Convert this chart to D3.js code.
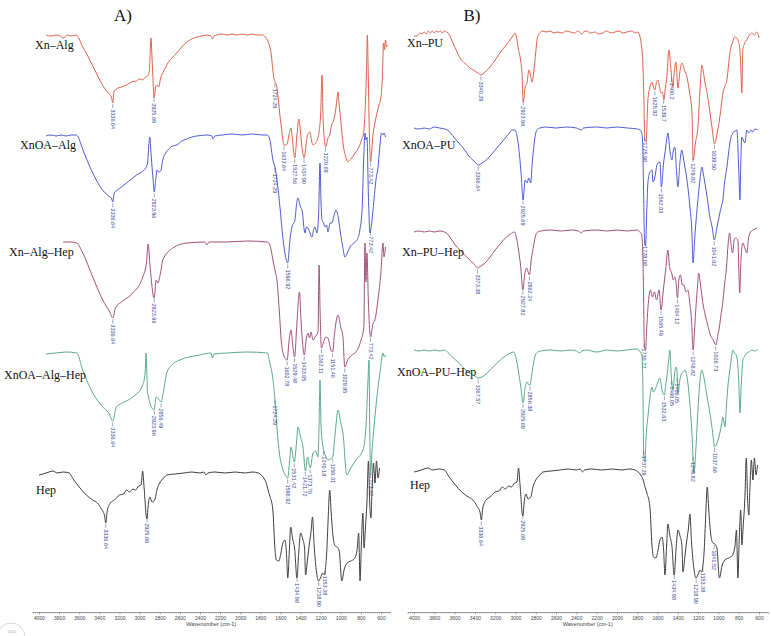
<!DOCTYPE html>
<html>
<head>
<meta charset="utf-8">
<script src="https://cdn.jsdelivr.net/npm/d3@7"></script>
<style>
  body { margin: 0; background: #fff; }
  svg { display: block; }
</style>
</head>
<body>
<div id="vis"></div>
<script>
// wavenumber ticks shared by both panels
const wavenumberTicks = d3.range(4000, 599, -200);
const minorTicks = d3.range(4060, 509, -20);

// spectra: [wavenumber cm-1, absorption depth below the spectrum's flat top (a.u.)]
const xnAlg = [
  [4000,0],[3950,1],[3900,0],[3860,1],[3830,3],[3810,2],[3790,0],[3750,1],[3700,0],[3670,4],[3640,11],[3600,18],[3560,26],[3500,38],[3460,46],[3420,53],[3380,58],[3350,62],[3336,68],[3325,57],[3300,54],[3250,52],[3200,50],[3150,47],[3100,46],[3070,44],[3040,45],[3010,42],[2990,41],[2972,35],[2957,3],[2945,25],[2925,63],[2910,52],[2895,50],[2880,52],[2860,43],[2830,36],[2800,30],[2750,23],[2700,18],[2650,12],[2600,7],[2550,4],[2500,2],[2450,1],[2400,0],[2360,1],[2345,4],[2330,1],[2300,0],[2250,-1],[2200,0],[2150,-1],[2100,0],[2050,-1],[2000,0],[1950,-1],[1900,0],[1850,0],[1820,2],[1800,5],[1780,10],[1760,20],[1745,35],[1735,43],[1724,47],[1712,49],[1700,56],[1690,65],[1675,80],[1660,92],[1645,105],[1633,110],[1615,110],[1600,108],[1585,100],[1565,93],[1545,110],[1527,123],[1505,100],[1487,84],[1472,95],[1460,108],[1434,123],[1415,110],[1400,100],[1376,97],[1360,106],[1345,110],[1320,108],[1300,104],[1283,95],[1270,80],[1256,40],[1245,85],[1220,112],[1200,104],[1180,100],[1160,90],[1140,85],[1120,75],[1105,62],[1097,57],[1085,70],[1070,85],[1045,110],[1020,122],[1000,127],[980,125],[960,123],[940,120],[920,117],[900,114],[880,110],[860,104],[845,100],[830,80],[812,30],[805,0],[798,30],[785,100],[773,127],[750,100],[730,88],[709,78],[690,70],[670,62],[655,40],[645,8],[635,15],[625,5],[615,12],[605,10]
];
const xnoaAlg = [
  [4000,1],[3950,0],[3900,1],[3850,0],[3800,1],[3750,0],[3700,0],[3680,2],[3650,10],[3620,18],[3580,28],[3540,37],[3500,45],[3460,52],[3420,57],[3380,61],[3350,63],[3336,67],[3322,58],[3290,55],[3250,52],[3200,48],[3150,44],[3100,40],[3050,37],[3010,33],[2990,28],[2978,10],[2968,2],[2955,20],[2935,45],[2924,57],[2910,45],[2895,35],[2880,37],[2860,36],[2840,25],[2810,18],[2780,14],[2740,11],[2700,10],[2650,6],[2600,4],[2550,2],[2500,1],[2400,0],[2350,1],[2340,4],[2320,1],[2250,0],[2150,-1],[2050,0],[1950,-1],[1850,0],[1800,0],[1774,5],[1744,25],[1724,32],[1700,48],[1674,72],[1650,98],[1625,118],[1597,128],[1575,105],[1555,92],[1525,85],[1510,70],[1495,63],[1470,72],[1455,75],[1426,98],[1410,92],[1396,93],[1375,98],[1356,102],[1340,95],[1326,92],[1306,98],[1290,80],[1276,28],[1265,70],[1256,85],[1240,88],[1227,92],[1210,90],[1197,97],[1175,88],[1157,88],[1135,80],[1117,75],[1095,82],[1077,95],[1050,112],[1028,122],[1000,117],[978,112],[940,108],[908,105],[880,95],[858,75],[840,20],[829,-2],[818,5],[809,2],[795,60],[779,98],[765,90],[749,75],[720,45],[699,32],[680,10],[665,-2],[650,0],[640,-2],[625,2]
];
const xnAlgHep = [
  [3830,0],[3750,0],[3694,1],[3635,11],[3535,35],[3436,58],[3366,70],[3336,76],[3310,66],[3250,60],[3137,51],[3038,35],[3000,20],[2985,2],[2965,25],[2925,56],[2905,38],[2888,41],[2860,30],[2839,18],[2739,6],[2600,1],[2420,0],[2400,3],[2380,0],[2200,0],[2000,-1],[1800,0],[1774,3],[1744,18],[1720,30],[1704,38],[1680,70],[1660,100],[1630,115],[1602,118],[1585,100],[1565,88],[1545,105],[1529,115],[1505,80],[1480,50],[1465,78],[1450,100],[1433,113],[1410,95],[1396,91],[1380,96],[1366,90],[1345,98],[1326,95],[1296,90],[1285,23],[1275,70],[1262,106],[1240,100],[1220,95],[1197,96],[1167,108],[1151,110],[1130,90],[1097,73],[1070,85],[1048,95],[1030,125],[1000,118],[960,113],[928,111],[868,98],[840,85],[829,1],[819,40],[809,11],[795,60],[773,95],[750,82],[730,78],[700,58],[670,30],[650,1],[640,15],[625,5]
];
const xnoaAlgHep = [
  [4000,1],[3900,0],[3800,-1],[3694,0],[3635,17],[3535,40],[3436,54],[3376,60],[3336,68],[3300,54],[3200,48],[3137,44],[3038,32],[3015,20],[3005,0],[2990,40],[2925,57],[2905,44],[2880,46],[2856,49],[2835,40],[2800,20],[2750,12],[2670,7],[2470,2],[2360,0],[2345,5],[2330,1],[2200,0],[2000,-1],[1800,0],[1774,10],[1750,22],[1724,46],[1700,80],[1680,100],[1650,115],[1620,122],[1597,125],[1580,110],[1565,94],[1531,109],[1510,90],[1495,74],[1470,84],[1445,94],[1421,118],[1400,104],[1373,115],[1346,100],[1320,98],[1296,104],[1285,70],[1276,27],[1265,75],[1240,97],[1220,103],[1197,107],[1150,104],[1125,80],[1097,57],[1070,70],[1048,80],[1010,122],[970,115],[918,107],[849,97],[819,74],[800,30],[789,7],[781,80],[773,122],[760,100],[730,64],[700,35],[680,20],[650,0],[635,4],[620,2]
];
const hep = [
  [4000,2],[3960,1],[3900,-1],[3860,-2],[3820,0],[3760,-1],[3700,0],[3660,6],[3600,14],[3530,22],[3465,27],[3420,30],[3380,36],[3350,42],[3336,50],[3322,38],[3290,30],[3250,27],[3200,22],[3160,21],[3130,17],[3100,19],[3067,16],[3040,17],[3010,13],[2985,12],[2970,-2],[2955,15],[2928,46],[2912,30],[2898,24],[2875,29],[2850,27],[2825,16],[2800,10],[2760,5],[2729,2],[2650,1],[2560,0],[2480,-1],[2400,0],[2360,-1],[2340,2],[2320,0],[2250,-1],[2150,0],[2050,-1],[1950,0],[1880,-1],[1820,0],[1790,2],[1760,6],[1744,9],[1720,18],[1705,23],[1675,37],[1655,75],[1640,87],[1615,88],[1595,80],[1576,70],[1555,67],[1540,80],[1527,105],[1510,75],[1498,54],[1478,66],[1458,76],[1436,105],[1418,80],[1399,60],[1378,66],[1360,75],[1350,102],[1330,86],[1311,70],[1295,58],[1281,44],[1265,72],[1240,100],[1222,108],[1202,105],[1180,100],[1163,102],[1153,96],[1140,80],[1125,45],[1110,17],[1095,40],[1075,65],[1054,73],[1035,74],[1015,78],[990,108],[965,96],[936,90],[900,88],[867,86],[838,77],[822,60],[808,108],[795,70],[780,40],[769,75],[755,55],[740,30],[725,-12],[712,30],[700,45],[690,20],[675,-10],[660,10],[645,-12],[630,5],[615,-5]
];
const xnPu = [
  [4000,4],[3970,4],[3940,1],[3920,2],[3900,0],[3880,2],[3860,-1],[3840,1],[3820,-1],[3800,1],[3780,-1],[3760,0],[3740,-1],[3720,1],[3700,-1],[3680,0],[3665,1],[3640,5],[3616,11],[3580,19],[3547,26],[3500,31],[3448,36],[3400,39],[3370,41],[3340,43],[3300,40],[3251,35],[3200,28],[3153,21],[3100,14],[3054,8],[3020,3],[3005,1],[2990,5],[2975,15],[2950,28],[2936,41],[2923,70],[2905,55],[2887,51],[2867,38],[2850,44],[2838,50],[2818,38],[2800,20],[2788,8],[2770,2],[2759,1],[2740,-1],[2700,0],[2660,-1],[2620,1],[2580,0],[2540,1],[2500,-1],[2460,0],[2420,1],[2380,-1],[2350,2],[2330,0],[2300,-1],[2260,1],[2220,0],[2180,2],[2140,1],[2100,-1],[2060,1],[2020,0],[1980,-1],[1940,1],[1900,0],[1860,-1],[1820,1],[1795,0],[1775,4],[1760,12],[1745,30],[1735,65],[1725,108],[1712,110],[1700,80],[1695,68],[1675,55],[1655,50],[1640,55],[1626,58],[1610,50],[1596,48],[1580,55],[1567,61],[1552,60],[1537,68],[1522,55],[1508,45],[1488,18],[1470,35],[1449,55],[1435,40],[1419,30],[1399,56],[1380,40],[1360,31],[1335,38],[1310,45],[1285,60],[1261,80],[1249,128],[1225,110],[1202,95],[1180,55],[1163,33],[1148,40],[1133,50],[1110,62],[1084,80],[1060,98],[1039,112],[1010,100],[986,85],[970,72],[956,61],[935,54],[916,48],[900,33],[887,21],[860,10],[838,5],[820,6],[808,8],[788,18],[778,40],[769,61],[760,18],[745,12],[720,8],[700,4],[670,1],[645,3],[621,0],[600,6]
];
const xnoaPu = [
  [4000,0],[3950,1],[3900,0],[3850,1],[3800,-1],[3750,0],[3700,1],[3670,2],[3640,5],[3600,10],[3550,16],[3500,22],[3460,28],[3420,32],[3390,35],[3366,37],[3330,35],[3300,33],[3250,28],[3200,22],[3150,16],[3100,10],[3060,5],[3030,2],[3005,2],[2985,8],[2970,18],[2945,45],[2925,72],[2905,52],[2885,55],[2870,50],[2850,55],[2835,35],[2815,15],[2800,5],[2780,1],[2760,0],[2700,-1],[2600,0],[2500,-1],[2400,0],[2350,2],[2330,0],[2200,-1],[2100,0],[2000,-1],[1900,0],[1800,1],[1770,2],[1755,5],[1745,20],[1738,60],[1728,112],[1718,118],[1705,80],[1695,55],[1675,44],[1655,42],[1645,54],[1626,49],[1606,37],[1596,35],[1576,34],[1562,59],[1540,35],[1520,20],[1498,5],[1475,25],[1458,32],[1443,22],[1429,19],[1412,45],[1399,59],[1380,35],[1360,22],[1345,30],[1330,39],[1301,59],[1280,80],[1261,105],[1251,135],[1230,105],[1202,72],[1180,50],[1163,39],[1150,45],[1133,55],[1110,70],[1084,89],[1060,100],[1041,112],[1015,100],[986,85],[970,78],[956,72],[940,55],[916,39],[900,25],[887,15],[857,5],[835,3],[818,2],[800,40],[788,72],[778,30],[769,9],[755,12],[739,15],[720,2],[700,5],[680,2],[661,4],[640,1],[611,2]
];
const xnPuHep = [
  [4000,2],[3950,1],[3900,2],[3850,1],[3800,2],[3750,1],[3700,2],[3670,4],[3640,8],[3600,14],[3550,20],[3500,25],[3450,30],[3400,35],[3373,38],[3340,36],[3300,33],[3250,27],[3200,20],[3150,14],[3100,8],[3050,4],[3010,2],[2990,8],[2970,20],[2950,35],[2927,60],[2910,45],[2890,38],[2875,42],[2862,45],[2845,30],[2820,15],[2800,5],[2780,2],[2750,1],[2650,0],[2550,1],[2450,0],[2380,1],[2350,3],[2330,1],[2200,0],[2100,1],[2000,0],[1900,1],[1800,0],[1775,2],[1760,3],[1748,15],[1738,60],[1730,117],[1718,120],[1705,95],[1690,72],[1670,60],[1650,67],[1630,62],[1610,70],[1585,60],[1565,80],[1545,62],[1520,40],[1498,20],[1480,38],[1460,43],[1445,50],[1430,47],[1415,55],[1404,68],[1390,50],[1375,45],[1355,55],[1340,55],[1320,62],[1300,60],[1280,75],[1265,90],[1249,120],[1235,100],[1220,75],[1205,55],[1195,43],[1180,52],[1170,60],[1150,75],[1130,85],[1105,95],[1080,105],[1050,110],[1026,115],[1005,105],[990,97],[975,85],[960,75],[940,55],[920,37],[905,15],[890,3],[875,15],[860,23],[845,10],[830,8],[808,10],[800,35],[790,63],[778,30],[759,13],[740,18],[720,23],[705,10],[690,3],[660,0],[640,-1],[621,-2]
];
const xnoaPuHep = [
  [4000,0],[3950,1],[3900,0],[3850,1],[3800,0],[3750,1],[3700,0],[3670,2],[3640,5],[3600,9],[3550,14],[3500,19],[3450,23],[3400,26],[3367,28],[3330,27],[3300,25],[3250,20],[3200,15],[3150,10],[3100,6],[3050,3],[3020,2],[2990,10],[2970,22],[2950,35],[2925,53],[2905,38],[2885,32],[2867,35],[2856,35],[2840,25],[2820,12],[2800,4],[2780,2],[2750,1],[2650,0],[2550,1],[2450,0],[2400,1],[2365,3],[2345,1],[2300,0],[2200,2],[2100,0],[2000,1],[1900,0],[1800,-1],[1770,2],[1755,5],[1747,20],[1742,55],[1737,102],[1725,112],[1712,85],[1695,67],[1675,48],[1655,37],[1640,42],[1626,40],[1600,33],[1576,28],[1560,38],[1547,43],[1532,45],[1520,35],[1508,27],[1490,10],[1478,0],[1465,25],[1449,40],[1430,22],[1420,17],[1409,20],[1399,43],[1380,30],[1360,23],[1345,22],[1330,20],[1301,33],[1280,55],[1261,83],[1241,123],[1220,95],[1202,60],[1185,35],[1163,20],[1148,25],[1133,33],[1110,48],[1084,63],[1060,80],[1037,97],[1010,92],[986,83],[970,75],[956,67],[936,77],[920,55],[907,37],[880,15],[857,0],[840,3],[818,7],[800,30],[788,63],[775,35],[759,10],[740,6],[720,3],[700,2],[670,0],[640,1],[611,-1]
];

// peak labels, as printed
const xnAlgPeaks = ["3336.64","2925.69","1724.29","1633.64","1527.56","1434.90","1220.69","773.42"];
const xnoaAlgPeaks = ["3336.64","2923.96","1724.29","1596.92","773.42"];
const xnAlgHepPeaks = ["3336.64","2923.96","1602.78","1529.48","1433.05","1262.11","1151.46","1029.95","773.42"];
const xnoaAlgHepPeaks = ["3336.64","2923.96","2856.49","1724.29","1596.92","1531.42","1421.72","1373.76","1240.18","1150.31","773.42"];
const hepPeaks = ["3336.64","2925.69","1434.98","1218.90","1153.38"];
const xnPuPeaks = ["3340.29","2923.96","1725.98","1625.92","1539.7","1460.2","1249.82","1039.50"];
const xnoaPuPeaks = ["3366.64","2925.69","1728.08","1562.03","1041.02"];
const xnPuHepPeaks = ["3373.38","2927.82","2862.24","1730.72","1565.49","1404.12","1248.82","1026.73"];
const xnoaPuHepPeaks = ["3367.57","2925.69","2856.38","1737.29","1532.63","1460.05","1406.05","1249.82","1037.66"];
const hepPeaksB = ["3336.64","2925.69","1434.98","1218.90","1153.38","1041.52"];

const width = 771;
const height = 636;

const svg = d3.select("#vis")
  .append("svg")
  .attr("width", width)
  .attr("height", height);

svg.append("rect").attr("width", width).attr("height", height).attr("fill", "#fff");

const panels = [
  {
    title: "A)", titleX: 123, range: [46, 388], axisRange: [39, 381],
    spectra: [
      { name: "Xn–Alg", values: xnAlg, peaks: xnAlgPeaks, color: "#e0604c", top: 35, lx: 35, ly: 49 },
      { name: "XnOA–Alg", values: xnoaAlg, peaks: xnoaAlgPeaks, color: "#4d5bd4", top: 135, lx: 20, ly: 149 },
      { name: "Xn–Alg–Hep", values: xnAlgHep, peaks: xnAlgHepPeaks, color: "#a3507a", top: 242, lx: 9, ly: 256 },
      { name: "XnOA–Alg–Hep", values: xnoaAlgHep, peaks: xnoaAlgHepPeaks, color: "#5aaa8a", top: 353, lx: 4, ly: 379 },
      { name: "Hep", values: hep, peaks: hepPeaks, color: "#3e3e3e", top: 473, lx: 36, ly: 494, onAxis: true }
    ]
  },
  {
    title: "B)", titleX: 472, range: [414, 759], axisRange: [414, 759],
    spectra: [
      { name: "Xn–PU", values: xnPu, peaks: xnPuPeaks, color: "#e0604c", top: 32, lx: 407, ly: 47 },
      { name: "XnOA–PU", values: xnoaPu, peaks: xnoaPuPeaks, color: "#4d5bd4", top: 128, lx: 402, ly: 149 },
      { name: "Xn–PU–Hep", values: xnPuHep, peaks: xnPuHepPeaks, color: "#a3507a", top: 230, lx: 402, ly: 256 },
      { name: "XnOA–PU–Hep", values: xnoaPuHep, peaks: xnoaPuHepPeaks, color: "#5aaa8a", top: 350, lx: 397, ly: 376 },
      { name: "Hep", values: hep, peaks: hepPeaksB, color: "#3e3e3e", top: 470, lx: 410, ly: 489, onAxis: true }
    ]
  }
];

// linear read of a spectrum at a given wavenumber (data in descending order)
function valueAt(values, w) {
  for (let i = 0; i < values.length - 1; i++) {
    const [w0, v0] = values[i];
    const [w1, v1] = values[i + 1];
    if (w <= w0 && w >= w1) return v0 + (v1 - v0) * (w0 - w) / (w0 - w1);
  }
  return values[values.length - 1][1];
}

panels.forEach(p => {
  const x = d3.scaleLinear().domain([4000, 600]).range(p.range);
  const xAxisRef = d3.scaleLinear().domain([4000, 600]).range(p.axisRange);

  svg.append("text")
    .attr("x", p.titleX)
    .attr("y", 21)
    .attr("text-anchor", "middle")
    .attr("font-family", "Liberation Serif, serif")
    .attr("font-size", 17)
    .attr("fill", "#111")
    .text(p.title);

  p.spectra.forEach(s => {
    const xs = s.onAxis ? xAxisRef : x;
    const y = d3.scaleLinear().domain([0, 100]).range([s.top, s.top + 100]);

    const line = d3.line()
      .x(d => xs(d[0]))
      .y(d => y(d[1]))
      .curve(d3.curveMonotoneX);

    svg.append("path")
      .datum(s.values)
      .attr("d", line)
      .attr("fill", "none")
      .attr("stroke", s.color)
      .attr("stroke-width", 1)
      .attr("stroke-linejoin", "round");

    svg.append("text")
      .attr("x", s.lx)
      .attr("y", s.ly)
      .attr("font-family", "Liberation Serif, serif")
      .attr("font-size", 12)
      .attr("fill", "#111")
      .text(s.name);

    const pk = svg.append("g").selectAll("g")
      .data(s.peaks)
      .enter()
      .append("g")
      .attr("transform", d => `translate(${xs(+d)},${y(valueAt(s.values, +d)) + 1.5})`);

    pk.append("line")
      .attr("y1", 0).attr("y2", 4)
      .attr("stroke", "#3a4590")
      .attr("stroke-width", 0.5);

    pk.append("text")
      .attr("transform", "translate(0,5) rotate(90)")
      .attr("dy", "0.35em")
      .attr("font-family", "Liberation Sans, Arial, sans-serif")
      .attr("font-size", 5.5)
      .attr("fill", "#3a4590")
      .text(d => d);
  });

  // wavenumber axis (shared with the reference trace)
  const ext = d3.scaleLinear()
    .domain([4065, 510])
    .range([xAxisRef(4065), xAxisRef(510)]);
  const axisY = 612;

  const gMinor = svg.append("g")
    .attr("transform", `translate(0,${axisY})`)
    .call(d3.axisBottom(ext).tickValues(minorTicks).tickSize(1.5).tickFormat(""));
  gMinor.select(".domain").attr("stroke", "#666").attr("stroke-width", 0.6);
  gMinor.selectAll(".tick line").attr("stroke", "#777").attr("stroke-width", 0.4);

  const gMajor = svg.append("g")
    .attr("transform", `translate(0,${axisY})`)
    .call(d3.axisBottom(ext).tickValues(wavenumberTicks).tickSize(2.5).tickPadding(1.5).tickFormat(d3.format("d")));
  gMajor.select(".domain").remove();
  gMajor.selectAll(".tick line").attr("stroke", "#666").attr("stroke-width", 0.5);
  gMajor.selectAll(".tick text")
    .attr("font-family", "Liberation Sans, Arial, sans-serif")
    .attr("font-size", 5)
    .attr("fill", "#444");

  svg.append("text")
    .attr("x", (xAxisRef(4065) + xAxisRef(510)) / 2)
    .attr("y", 626)
    .attr("text-anchor", "middle")
    .attr("font-family", "Liberation Sans, Arial, sans-serif")
    .attr("font-size", 5.5)
    .attr("fill", "#444")
    .text("Wavenumber (cm-1)");
});

// faint round stamp in the corner
svg.append("circle")
  .attr("cx", 11).attr("cy", 637).attr("r", 14)
  .attr("fill", "none").attr("stroke", "#ccc").attr("stroke-width", 0.8);
svg.append("text")
  .attr("x", 12).attr("y", 633)
  .attr("text-anchor", "middle")
  .attr("font-family", "Liberation Sans, sans-serif")
  .attr("font-size", 5)
  .attr("fill", "#bbb")
  .text("ooo");
</script>
</body>
</html>
